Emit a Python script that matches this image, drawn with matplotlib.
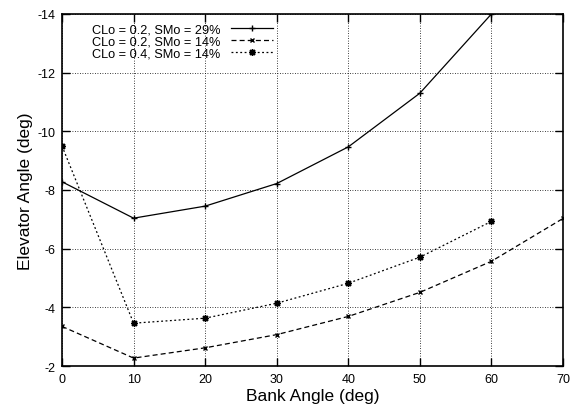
import matplotlib
matplotlib.use("Agg")
import matplotlib.pyplot as plt

plt.rcParams['font.family'] = ['Liberation Sans', 'DejaVu Sans']
plt.rcParams['axes.unicode_minus'] = False

# bank angle sweep (deg)
bank = [0, 10, 20, 30, 40, 50, 60, 70]

# elevator angle (deg) for each configuration
elev_cl02_sm29 = [-8.28, -7.04, -7.45, -8.22, -9.47, -11.30, -14.0]
elev_cl02_sm14 = [-3.35, -2.27, -2.62, -3.07, -3.69, -4.51, -5.57, -7.03]
elev_cl04_sm14 = [-9.50, -3.46, -3.63, -4.14, -4.82, -5.71, -6.93]

labels = ['CLo = 0.2, SMo = 29%', 'CLo = 0.2, SMo = 14%', 'CLo = 0.4, SMo = 14%']

fig = plt.figure(figsize=(5.71, 4.14), dpi=100)
ax = fig.add_axes([0.1086, 0.1135, 0.8774, 0.8503])

ax.plot(bank[:len(elev_cl02_sm29)], elev_cl02_sm29, color='black', lw=0.9,
        linestyle='-', marker='+', markersize=4.5, mew=1.0, label=labels[0])
ax.plot(bank[:len(elev_cl02_sm14)], elev_cl02_sm14, color='black', lw=0.9,
        linestyle=(0, (4, 2.5)), marker='x', markersize=3.5, mew=1.0, label=labels[1])
ax.plot(bank[:len(elev_cl04_sm14)], elev_cl04_sm14, color='black', lw=0.9,
        linestyle=(0, (1.5, 2)), marker=(8, 2, 0), markersize=5, mew=1.0, label=labels[2])

ax.set_xlim(0, 70)
ax.set_ylim(-2, -14)
ax.set_xticks(range(0, 71, 10))
ax.set_yticks(range(-2, -15, -2))
ax.grid(True, color='black', linestyle=(0, (1, 2)), linewidth=0.6)

ax.tick_params(direction='in', length=6, width=1.0, top=True, right=True,
               labelsize=9, pad=5)
for sp in ax.spines.values():
    sp.set_linewidth(1.2)

ax.set_xlabel('Bank Angle (deg)', fontsize=12.5, labelpad=2)
ax.set_ylabel('Elevator Angle (deg)', fontsize=12.5, labelpad=3)

leg = ax.legend(loc='upper left', bbox_to_anchor=(0.045, 0.995), frameon=False,
                markerfirst=False, fontsize=9.2, handlelength=3.3,
                handletextpad=0.8, labelspacing=0.0, borderaxespad=0.2)

fig.savefig('out.png', dpi=100)
